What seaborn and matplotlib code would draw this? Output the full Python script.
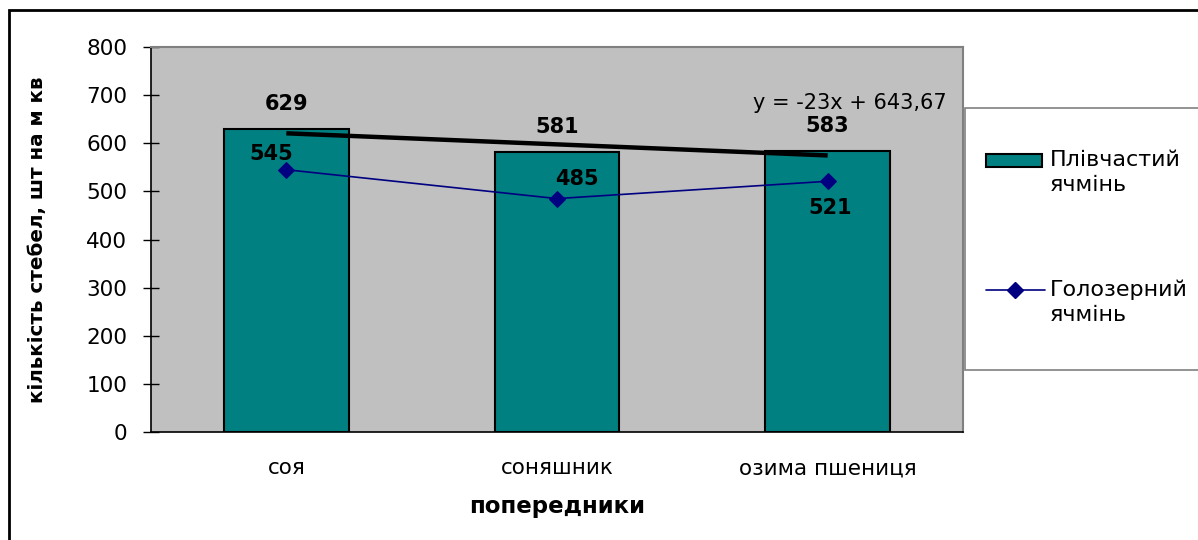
import numpy as np
import pandas as pd
import matplotlib
matplotlib.use("Agg")
import matplotlib.pyplot as plt
from matplotlib.patches import Rectangle
from matplotlib.lines import Line2D
import seaborn as sns

# Data
predecessors = ["соя", "соняшник", "озима пшениця"]
hulled_barley = [629, 581, 583]
naked_barley = [545, 485, 521]
trend_slope = -23.0
trend_intercept = 643.67
series_names = ["Плівчастий\nячмінь", "Голозерний\nячмінь"]
y_ticks = [0, 100, 200, 300, 400, 500, 600, 700, 800]

sns.set_theme(style="white")
plt.rcParams["font.family"] = ["DejaVu Sans"]
for key in ["text.color", "axes.labelcolor", "xtick.color", "ytick.color"]:
    plt.rcParams[key] = "black"

TEAL = "#008080"
NAVY = "#000080"
GRAY_BG = "#C0C0C0"
W, H = 1198, 540

fig = plt.figure(figsize=(W / 100, H / 100), dpi=100)
fig.patch.set_facecolor("white")
ax = fig.add_axes([151 / W, 1 - 432 / H, (963 - 151) / W, (432 - 47) / H])
ax.set_facecolor(GRAY_BG)

df = pd.DataFrame({"pred": predecessors, "hulled": hulled_barley, "naked": naked_barley})

sns.barplot(data=df, x="pred", y="hulled", color=TEAL, saturation=1, width=0.46,
            edgecolor="black", linewidth=1.5, ax=ax, zorder=2)

xpos = np.arange(len(predecessors))
sns.lineplot(x=xpos, y=naked_barley, color=NAVY, linewidth=1.2, marker="D",
             markersize=8, markeredgecolor=NAVY, ax=ax, zorder=4, legend=False)

# Linear trend of the hulled barley series (x counted from 1)
trend_x = xpos + 1
trend_y = trend_slope * trend_x + trend_intercept
ax.plot(xpos, trend_y, color="black", linewidth=3.2, solid_capstyle="butt", zorder=3)
ax.text(2.441, 684, "y = -23x + 643,67", ha="right", va="center", fontsize=15)

# Value labels
for i, v in enumerate(hulled_barley):
    ax.annotate(str(v), (i, v), xytext=(0, 18), textcoords="offset points",
                ha="center", va="center", fontsize=15, fontweight="bold")
naked_offsets = [(-11, 11), (14, 14), (2, -19)]
for i, v in enumerate(naked_barley):
    dx, dy = naked_offsets[i]
    ax.annotate(str(v), (i, v), xytext=(dx, dy), textcoords="offset points",
                ha="center", va="center", fontsize=15, fontweight="bold")

# Axes
ax.set_xlim(-0.5, 2.5)
ax.set_ylim(0, 800)
ax.set_yticks(y_ticks)
ax.set_yticklabels([str(t) for t in y_ticks], fontsize=15.5)
ax.set_xticks(xpos)
ax.set_xticklabels(predecessors, fontsize=15.5)
ax.set_xticks([-0.5, 0.5, 1.5, 2.5], minor=True)
ax.tick_params(axis="x", which="major", length=0, pad=19)
ax.tick_params(axis="x", which="minor", direction="inout", length=14, width=1, color="black")
ax.tick_params(axis="y", which="major", direction="inout", length=12, width=1,
               color="black", pad=11, left=True)
ax.set_xlabel("попередники", fontsize=16.5, fontweight="bold", labelpad=12)
ax.set_ylabel("кількість стебел, шт на м кв", fontsize=14.3, fontweight="bold", labelpad=28)

for side in ["left", "bottom"]:
    ax.spines[side].set_color("black")
    ax.spines[side].set_linewidth(1.2)
for side in ["top", "right"]:
    ax.spines[side].set_color("#808080")
    ax.spines[side].set_linewidth(1.5)


# Legend panel (figure pixel coordinates converted to figure fractions)
def fx(px):
    return px / W


def fy(py):
    return 1 - py / H


fig.patches.append(Rectangle((fx(965), fy(370)), fx(1230) - fx(965), fy(108) - fy(370),
                             transform=fig.transFigure, facecolor="white",
                             edgecolor="#808080", linewidth=1.2))
fig.patches.append(Rectangle((fx(986), fy(167)), fx(1042) - fx(986), fy(154) - fy(167),
                             transform=fig.transFigure, facecolor=TEAL,
                             edgecolor="black", linewidth=1.5))
fig.lines.append(Line2D([fx(986), fx(1045)], [fy(290), fy(290)], transform=fig.transFigure,
                        color=NAVY, linewidth=1.2))
fig.lines.append(Line2D([fx(1015)], [fy(290)], transform=fig.transFigure, color=NAVY,
                        marker="D", markersize=8, linestyle="none"))
for name, top in zip(series_names, [150, 280]):
    fig.text(fx(1050), fy(top), name, ha="left", va="top", fontsize=16, linespacing=1.3)

# Outer chart frame
fig.patches.append(Rectangle((fx(9), -0.05), 1.2, fy(10) + 0.05,
                             transform=fig.transFigure, fill=False,
                             edgecolor="black", linewidth=2))

fig.savefig("out.png", dpi=100)
